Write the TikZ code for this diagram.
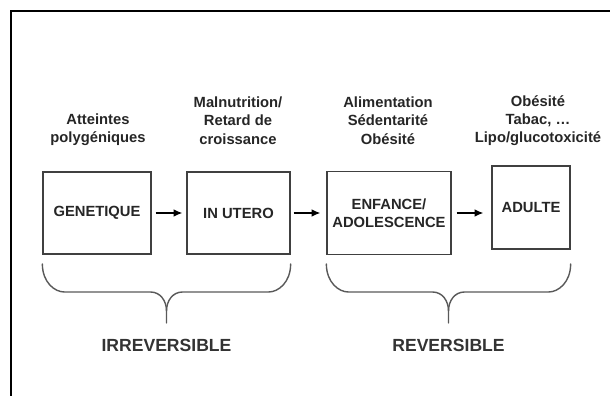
\documentclass[tikz,border=0pt]{standalone}
\usepackage{fontspec}
\setmainfont{Liberation Sans}
\usetikzlibrary{arrows.meta,calc,positioning}

% one curly brace from (#1) to (#2) with its point at (#3)
\newcommand{\stagebrace}[3]{%
    \draw[curly] (#1) .. controls +(0,-0.45) and +(-0.25,0) .. ++(0.55,-0.7)
        -- ($(#3)+(-0.4,0.775)$) .. controls +(0.25,0) and +(0,0.25) .. ($(#3)+(0,0.3)$)
        -- (#3);
    \draw[curly] (#2) .. controls +(0,-0.45) and +(0.25,0) .. ++(-0.55,-0.7)
        -- ($(#3)+(0.4,0.775)$) .. controls +(-0.25,0) and +(0,0.25) .. ($(#3)+(0,0.3)$);
}

\begin{document}
\begin{tikzpicture}[
    stage/.style={draw=black!75, line width=0.9pt, fill=white, inner sep=0pt,
        font=\fontsize{10.5}{13}\selectfont\bfseries, text=black!85, align=center},
    factor/.style={font=\fontsize{10.5}{13}\selectfont\bfseries, text=black!85,
        align=center, inner sep=0pt},
    flow/.style={draw=black, line width=0.9pt, -{Latex[length=2.2mm,width=1.9mm]}},
    curly/.style={draw=black!65, line width=1pt, line cap=round},
    verdict/.style={font=\fontsize{12.5}{15}\selectfont\bfseries, text=black!80,
        inner sep=0pt}
]
    \path[use as bounding box] (0,0) rectangle (15.25,9.875);

    % Outer frame, cut off by the right and bottom edges.
    \draw[line width=1.4pt] (0.275,-0.5) -- (0.275,9.6) -- (15.8,9.6);

    % The four stages of life.
    \node[stage, minimum width=2.7cm, minimum height=2.05cm]
        (gen) at (2.425,4.55) {GENETIQUE};
    \node[stage, minimum width=2.575cm, minimum height=2.05cm]
        (ute) at (5.9625,4.55) {IN UTERO};
    \node[stage, minimum width=3.1cm, minimum height=2.075cm]
        (enf) at (9.725,4.55) {ENFANCE/\\ADOLESCENCE};
    \node[stage, minimum width=1.95cm, minimum height=2.075cm]
        (adu) at (13.275,4.6875) {ADULTE};

    \draw[flow, shorten <=0.1cm, shorten >=0.1cm] (gen) -- (ute);
    \draw[flow, shorten <=0.075cm, shorten >=0.15cm] (ute) -- (enf);
    \draw[flow, shorten <=0.125cm, shorten >=0.2cm] (enf.east) -- (enf.east -| adu.west);

    % Risk factors above each stage.
    \node[factor] (fgen) at (2.45,6.6375) {Atteintes\\polygéniques};
    \node[factor] (fute) at (5.95,6.8625) {Malnutrition/\\Retard de\\croissance};
    \node[factor] (fenf) at (9.7,6.8625) {Alimentation\\Sédentarité\\Obésité};
    \node[factor] (fadu) at (13.45,6.8625) {Obésité\\Tabac, \dots\\Lipo/glucotoxicité};

    % Braces grouping the stages.
    \coordinate (irr-a) at (gen.west |- 0,3.275);
    \coordinate (irr-b) at (ute.east |- 0,3.275);
    \coordinate (irr-t) at ($(irr-a)!0.5!(irr-b)+(0,-1.475)$);
    \coordinate (rev-a) at (enf.west |- 0,3.275);
    \coordinate (rev-b) at (adu.east |- 0,3.275);
    \coordinate (rev-t) at ($(rev-a)!0.5!(rev-b)+(0,-1.475)$);
    \stagebrace{irr-a}{irr-b}{irr-t}
    \stagebrace{rev-a}{rev-b}{rev-t}

    \node[verdict, below=0.4cm of irr-t] (irr) {IRREVERSIBLE};
    \node[verdict, below=0.4cm of rev-t] (rev) {REVERSIBLE};
\end{tikzpicture}
\end{document}
